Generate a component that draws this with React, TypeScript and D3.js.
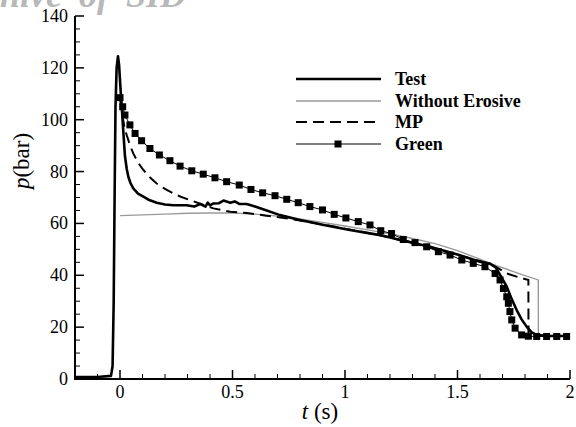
import React from "react";
import * as d3 from "d3";

// ---- data ----
const testT = [-0.2, -0.1, -0.04, -0.033, -0.028, -0.024, -0.02, -0.015, -0.009, -0.004, 0.003, 0.01, 0.015, 0.022, 0.03, 0.037, 0.047, 0.059, 0.08, 0.104, 0.13, 0.163, 0.2, 0.237, 0.296, 0.33, 0.356, 0.38, 0.39, 0.4, 0.415, 0.44, 0.46, 0.49, 0.51, 0.53, 0.563, 0.6, 0.652, 0.711, 0.8, 0.9, 1.022, 1.156, 1.25, 1.378, 1.5, 1.6, 1.644, 1.67, 1.681, 1.7, 1.719, 1.74, 1.763, 1.785, 1.807, 1.83, 1.852, 1.9, 2.0];
const testP = [0.8, 0.8, 1.2, 5, 30, 70, 105, 120, 124.5, 121, 111, 102, 95, 86, 81, 78, 75.5, 73.5, 71.5, 70.3, 69, 68, 67.3, 67, 67, 66.5, 67.5, 66.5, 68, 67, 67.7, 67.8, 68.8, 68, 68.5, 67.5, 67.5, 66.5, 65, 63.2, 61.3, 59.5, 57.5, 55.5, 53.5, 51, 48, 45.2, 44.5, 43, 41.4, 38.5, 35.6, 31, 26.6, 23, 20.2, 18, 17, 16.6, 16.6];

const noErosT = [0, 0.1, 0.2, 0.3, 0.4, 0.5, 0.6, 0.7, 0.8, 0.9, 1.0, 1.1, 1.2, 1.3, 1.4, 1.5, 1.6, 1.644, 1.7, 1.8, 1.859, 1.8595, 1.9, 2.0];
const noErosP = [63, 63.3, 63.6, 63.9, 64, 64, 63.6, 62.8, 61.7, 60.4, 59, 57.5, 56, 54.2, 52.2, 49.5, 46.2, 44.6, 42.9, 39.9, 38.2, 17, 16.6, 16.6];

const mpT = [0, 0.01, 0.02, 0.03, 0.045, 0.059, 0.08, 0.104, 0.13, 0.163, 0.2, 0.237, 0.27, 0.311, 0.36, 0.415, 0.49, 0.563, 0.65, 0.75, 0.85, 1.0, 1.15, 1.3, 1.45, 1.6, 1.65, 1.719, 1.77, 1.815, 1.8155, 1.83, 2.0];
const mpP = [108, 102, 97, 94, 90, 87, 83.5, 80.6, 78, 75.4, 73.3, 71.6, 70.3, 69, 67.5, 65.8, 64.5, 64, 63, 61.8, 60.4, 58, 55.5, 52.5, 49, 45.5, 44.3, 40.7, 39.3, 38.2, 17, 16.8, 16.6];

const greenT = [0, 0.012, 0.022, 0.044, 0.067, 0.096, 0.133, 0.175, 0.222, 0.267, 0.319, 0.37, 0.422, 0.474, 0.53, 0.582, 0.634, 0.689, 0.741, 0.792, 0.844, 0.9, 0.952, 1.004, 1.059, 1.111, 1.159, 1.207, 1.259, 1.311, 1.363, 1.415, 1.467, 1.519, 1.57, 1.622, 1.667, 1.689, 1.704, 1.719, 1.726, 1.733, 1.741, 1.756, 1.785, 1.815, 1.852, 1.896, 1.941, 1.985];
const greenP = [108.5, 105, 101.8, 98, 94.7, 91.9, 88.9, 86.4, 84.2, 82.1, 80.3, 79, 77.6, 76.1, 74.8, 73.1, 71.8, 70.7, 69.3, 68, 66.5, 65.2, 63.5, 62.1, 60.7, 59.4, 57.2, 56.1, 53.8, 52.6, 51, 49.1, 47.8, 45.9, 44.6, 43.3, 40.7, 38.2, 34.9, 31.7, 29.2, 26, 22.8, 19.6, 17, 16.5, 16.4, 16.4, 16.4, 16.4];

const xMajor = [0, 0.5, 1, 1.5, 2];
const xMajorLabels = ["0", "0.5", "1", "1.5", "2"];
const yMajor = [0, 20, 40, 60, 80, 100, 120, 140];
const yMajorLabels = ["0", "20", "40", "60", "80", "100", "120", "140"];
const legendNames = ["Test", "Without Erosive", "MP", "Green"];

const W = 576, H = 427;
const x = d3.scaleLinear().domain([-0.2, 2]).range([75, 570]);
const y = d3.scaleLinear().domain([0, 140]).range([379, 16]);

const zip = (t: number[], p: number[]) => t.map((v, i) => [v, p[i]] as [number, number]);
const line = d3.line<[number, number]>().x(d => x(d[0])).y(d => y(d[1]));

const serif = "'Liberation Serif', 'Times New Roman', serif";

export default function App() {
  const xMinor = d3.range(-1, 21).map(i => i / 10).filter(v => !xMajor.some(m => Math.abs(m - v) < 1e-9));
  const yMinor = d3.range(0, 141, 5).filter(v => v % 20 !== 0);
  const green = zip(greenT, greenP);
  const legY = [79, 101, 122, 144];
  return (
    <svg width={W} height={H} style={{ position: "absolute", left: 0, top: 0, background: "#fff" }} fontFamily={serif}>
      <rect width={W} height={H} fill="#fff" />
      {/* watermark */}
      <text x={186} y={7} textAnchor="end" fontSize={36} fontWeight="bold" fontStyle="italic" fill="#b8b8b8" wordSpacing={8}>Archive of SID</text>

      {/* curves */}
      <path d={line(zip(noErosT, noErosP)) || ""} fill="none" stroke="#9a9a9a" strokeWidth={1.4} />
      <path d={line(zip(mpT, mpP)) || ""} fill="none" stroke="#000" strokeWidth={2} strokeDasharray="11,6" />
      <path d={line(green) || ""} fill="none" stroke="#000" strokeWidth={1} />
      {green.map((d, i) => (
        <rect key={i} x={x(d[0]) - 3.5} y={y(d[1]) - 3.5} width={7} height={7} fill="#000" />
      ))}
      <path d={line(zip(testT, testP)) || ""} fill="none" stroke="#000" strokeWidth={2.6} strokeLinejoin="round" />

      {/* axes */}
      <line x1={75} x2={75} y1={y(140)} y2={y(0) + 1} stroke="#000" strokeWidth={2} />
      <line x1={74} x2={x(2)} y1={y(0)} y2={y(0)} stroke="#000" strokeWidth={2} />
      {xMajor.map(v => (
        <line key={"xM" + v} x1={x(v)} x2={x(v)} y1={y(0)} y2={y(0) - 9} stroke="#000" strokeWidth={1.5} />
      ))}
      {xMinor.map(v => (
        <line key={"xm" + v} x1={x(v)} x2={x(v)} y1={y(0)} y2={y(0) - 5} stroke="#000" strokeWidth={1} />
      ))}
      {yMajor.map(v => (
        <line key={"yM" + v} x1={75} x2={84} y1={y(v)} y2={y(v)} stroke="#000" strokeWidth={1.5} />
      ))}
      {yMinor.map(v => (
        <line key={"ym" + v} x1={75} x2={80} y1={y(v)} y2={y(v)} stroke="#000" strokeWidth={1} />
      ))}
      {xMajor.map((v, i) => (
        <text key={"xl" + v} x={x(v)} y={398} textAnchor="middle" fontSize={18}>{xMajorLabels[i]}</text>
      ))}
      {yMajor.map((v, i) => (
        <text key={"yl" + v} x={68} y={y(v) + 6} textAnchor="end" fontSize={18}>{yMajorLabels[i]}</text>
      ))}

      {/* axis titles */}
      <text x={320} y={419} textAnchor="middle" fontSize={23}>
        <tspan fontStyle="italic">t</tspan> (s)
      </text>
      <text transform="translate(29,161) rotate(-90)" textAnchor="middle" fontSize={23}>
        <tspan fontStyle="italic">p</tspan>(bar)
      </text>

      {/* legend */}
      <line x1={296} x2={381} y1={legY[0]} y2={legY[0]} stroke="#000" strokeWidth={2.6} />
      <line x1={296} x2={381} y1={legY[1]} y2={legY[1]} stroke="#9a9a9a" strokeWidth={1.4} />
      <line x1={296} x2={381} y1={legY[2]} y2={legY[2]} stroke="#000" strokeWidth={2} strokeDasharray="11,6" />
      <line x1={296} x2={381} y1={legY[3]} y2={legY[3]} stroke="#000" strokeWidth={1} />
      <rect x={334.5} y={legY[3] - 3.5} width={7} height={7} fill="#000" />
      {legendNames.map((n, i) => (
        <text key={n} x={395} y={legY[i] + 6} fontSize={18} fontWeight="bold">{n}</text>
      ))}
    </svg>
  );
}
